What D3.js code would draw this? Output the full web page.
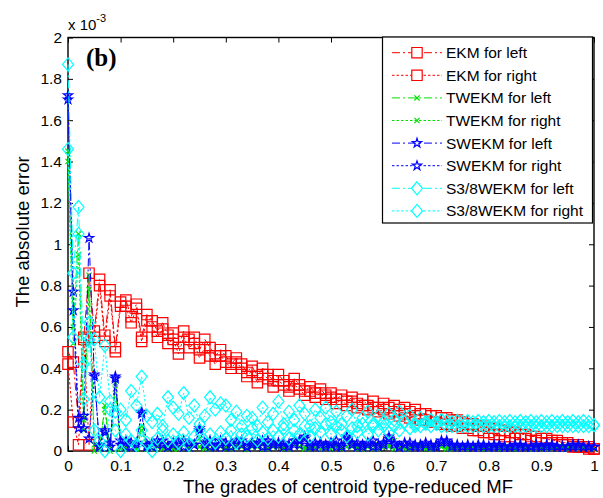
<!DOCTYPE html>
<html>
<head>
<meta charset="utf-8">
<script src="https://cdn.jsdelivr.net/npm/d3@7"></script>
<style>
body { margin: 0; background: #fff; }
text { font-family: "Liberation Sans", Arial, sans-serif; }
</style>
</head>
<body>
<div id="chart"></div>
<script>
// grades of the centroid type-reduced MF (x axis)
const grades = d3.range(0, 101).map(i => i / 100);

// absolute error, in units of 1e-3
const ekmLeft = [
    0.48, 0.43, 0.14, 0.55, 0.86, 0.58, 0.83, 0.56, 0.78, 0.50,
    0.72, 0.73, 0.65, 0.71, 0.55, 0.66, 0.63, 0.58, 0.62, 0.56,
    0.57, 0.50, 0.58, 0.54, 0.55, 0.49, 0.54, 0.50, 0.46, 0.49,
    0.46, 0.42, 0.45, 0.42, 0.38, 0.41, 0.36, 0.40, 0.37, 0.34,
    0.37, 0.34, 0.31, 0.35, 0.32, 0.29, 0.31, 0.28, 0.30, 0.27,
    0.28, 0.25, 0.27, 0.24, 0.26, 0.23, 0.25, 0.22, 0.24, 0.21,
    0.23, 0.21, 0.22, 0.20, 0.21, 0.19, 0.20, 0.18, 0.18, 0.17,
    0.17, 0.16, 0.16, 0.15, 0.15, 0.14, 0.13, 0.13, 0.12, 0.12,
    0.11, 0.11, 0.10, 0.10, 0.09, 0.09, 0.08, 0.08, 0.07, 0.07,
    0.06, 0.06, 0.05, 0.05, 0.04, 0.04, 0.03, 0.03, 0.02, 0.02, 0.01
];
const ekmRight = [
    0.42, 0.14, 0.03, 0.54, 0.03, 0.55, 0.80, 0.53, 0.75, 0.48,
    0.70, 0.70, 0.62, 0.69, 0.53, 0.63, 0.60, 0.55, 0.59, 0.52,
    0.54, 0.47, 0.55, 0.50, 0.52, 0.45, 0.50, 0.46, 0.42, 0.46,
    0.43, 0.40, 0.43, 0.40, 0.36, 0.39, 0.33, 0.37, 0.35, 0.31,
    0.34, 0.32, 0.29, 0.32, 0.30, 0.27, 0.29, 0.26, 0.28, 0.25,
    0.26, 0.23, 0.25, 0.22, 0.24, 0.21, 0.22, 0.20, 0.21, 0.19,
    0.20, 0.18, 0.19, 0.17, 0.18, 0.16, 0.17, 0.15, 0.15, 0.14,
    0.14, 0.13, 0.13, 0.12, 0.12, 0.11, 0.11, 0.10, 0.10, 0.09,
    0.09, 0.08, 0.08, 0.07, 0.07, 0.06, 0.06, 0.06, 0.05, 0.05,
    0.04, 0.04, 0.04, 0.03, 0.03, 0.03, 0.02, 0.02, 0.02, 0.01, 0.01
];
const twekmLeft = [
    1.45, 0.60, 1.05, 0.15, 0.85, 0.03, 0.01, 0.22, 0.01, 0.33,
    0.02, 0.01, 0.04, 0.02, 0.12, 0.01, 0.03, 0.02, 0.01, 0.03,
    0.02, 0.01, 0.03, 0.02, 0.04, 0.06, 0.02, 0.01, 0.03, 0.02,
    0.01, 0.03, 0.02, 0.04, 0.01, 0.02, 0.03, 0.01, 0.02, 0.03,
    0.02, 0.01, 0.03, 0.05, 0.02, 0.01, 0.02, 0.03, 0.01, 0.02,
    0.03, 0.02, 0.01, 0.02, 0.04, 0.02, 0.01, 0.02, 0.03, 0.01,
    0.02, 0.03, 0.05, 0.02, 0.01, 0.02, 0.03, 0.02, 0.01, 0.02,
    0.02, 0.03, 0.02, 0.01, 0.02, 0.02, 0.01, 0.02, 0.02, 0.01,
    0.02, 0.02, 0.01, 0.02, 0.02, 0.01, 0.02, 0.02, 0.01, 0.02,
    0.02, 0.01, 0.02, 0.02, 0.01, 0.02, 0.02, 0.01, 0.02, 0.01, 0.01
];
const twekmRight = [
    1.40, 0.52, 0.95, 0.10, 0.78, 0.00, 0.02, 0.20, 0.00, 0.30,
    0.01, 0.02, 0.03, 0.01, 0.10, 0.02, 0.01, 0.03, 0.02, 0.01,
    0.01, 0.02, 0.04, 0.01, 0.03, 0.02, 0.01, 0.03, 0.02, 0.04,
    0.02, 0.01, 0.03, 0.02, 0.01, 0.04, 0.02, 0.03, 0.01, 0.02,
    0.03, 0.02, 0.01, 0.03, 0.04, 0.02, 0.01, 0.02, 0.03, 0.02,
    0.01, 0.03, 0.02, 0.04, 0.02, 0.01, 0.03, 0.02, 0.01, 0.03,
    0.04, 0.02, 0.01, 0.03, 0.02, 0.01, 0.02, 0.03, 0.02, 0.01,
    0.02, 0.02, 0.01, 0.02, 0.02, 0.01, 0.02, 0.02, 0.01, 0.02,
    0.01, 0.02, 0.02, 0.01, 0.02, 0.01, 0.02, 0.02, 0.01, 0.02,
    0.01, 0.02, 0.01, 0.02, 0.02, 0.01, 0.02, 0.01, 0.02, 0.01, 0.01
];
const swekmLeft = [
    1.72, 0.68, 0.11, 0.17, 1.03, 0.37, 0.03, 0.10, 0.02, 0.35,
    0.05, 0.02, 0.04, 0.03, 0.19, 0.03, 0.02, 0.05, 0.03, 0.02,
    0.04, 0.03, 0.05, 0.02, 0.03, 0.11, 0.04, 0.02, 0.03, 0.05,
    0.02, 0.04, 0.03, 0.05, 0.02, 0.03, 0.04, 0.02, 0.05, 0.03,
    0.04, 0.02, 0.03, 0.05, 0.03, 0.07, 0.02, 0.04, 0.03, 0.02,
    0.03, 0.05, 0.02, 0.07, 0.03, 0.04, 0.02, 0.03, 0.05, 0.02,
    0.03, 0.07, 0.04, 0.02, 0.03, 0.04, 0.02, 0.03, 0.04, 0.03,
    0.02, 0.05, 0.04, 0.03, 0.02, 0.02, 0.03, 0.02, 0.02, 0.03,
    0.02, 0.02, 0.03, 0.02, 0.02, 0.03, 0.02, 0.02, 0.02, 0.03,
    0.02, 0.02, 0.03, 0.02, 0.02, 0.02, 0.03, 0.02, 0.02, 0.02, 0.02
];
const swekmRight = [
    1.70, 0.77, 0.16, 0.11, 0.06, 0.36, 0.02, 0.09, 0.04, 0.36,
    0.03, 0.05, 0.02, 0.04, 0.18, 0.02, 0.04, 0.03, 0.05, 0.02,
    0.03, 0.05, 0.02, 0.04, 0.03, 0.10, 0.03, 0.05, 0.02, 0.03,
    0.04, 0.02, 0.05, 0.03, 0.02, 0.04, 0.03, 0.05, 0.02, 0.04,
    0.03, 0.04, 0.02, 0.03, 0.05, 0.06, 0.03, 0.02, 0.04, 0.03,
    0.04, 0.02, 0.03, 0.06, 0.04, 0.02, 0.03, 0.04, 0.02, 0.03,
    0.04, 0.06, 0.03, 0.02, 0.04, 0.02, 0.03, 0.02, 0.03, 0.02,
    0.03, 0.04, 0.05, 0.02, 0.03, 0.02, 0.02, 0.02, 0.03, 0.02,
    0.02, 0.03, 0.02, 0.02, 0.02, 0.02, 0.03, 0.02, 0.02, 0.02,
    0.02, 0.03, 0.02, 0.02, 0.02, 0.02, 0.02, 0.03, 0.02, 0.02, 0.02
];
const s38Left = [
    1.87, 0.86, 1.18, 0.42, 0.62, 0.10, 0.05, 0.00, 0.20, 0.10,
    0.00, 0.08, 0.05, 0.03, 0.10, 0.04, 0.00, 0.06, 0.10, 0.05,
    0.08, 0.04, 0.09, 0.03, 0.07, 0.10, 0.05, 0.08, 0.04, 0.09,
    0.06, 0.10, 0.04, 0.08, 0.07, 0.11, 0.05, 0.09, 0.06, 0.10,
    0.07, 0.11, 0.06, 0.10, 0.08, 0.12, 0.07, 0.11, 0.09, 0.13,
    0.08, 0.12, 0.10, 0.07, 0.11, 0.09, 0.13, 0.08, 0.12, 0.10,
    0.14, 0.09, 0.12, 0.10, 0.14, 0.11, 0.13, 0.12, 0.14, 0.12,
    0.14, 0.12, 0.145, 0.12, 0.145, 0.12, 0.145, 0.12, 0.145, 0.12,
    0.145, 0.12, 0.145, 0.12, 0.145, 0.12, 0.145, 0.12, 0.145, 0.12,
    0.145, 0.12, 0.145, 0.12, 0.145, 0.12, 0.145, 0.12, 0.145, 0.12, 0.125
];
const s38Right = [
    1.46, 0.55, 1.05, 0.25, 0.54, 0.54, 0.26, 0.51, 0.24, 0.19,
    0.20, 0.15, 0.29, 0.22, 0.36, 0.17, 0.14, 0.18, 0.12, 0.26,
    0.21, 0.18, 0.28, 0.16, 0.22, 0.13, 0.17, 0.26, 0.20, 0.23,
    0.22, 0.15, 0.19, 0.12, 0.17, 0.16, 0.12, 0.21, 0.14, 0.18,
    0.24, 0.13, 0.19, 0.15, 0.22, 0.18, 0.12, 0.20, 0.16, 0.21,
    0.14, 0.19, 0.13, 0.17, 0.20, 0.12, 0.16, 0.19, 0.13, 0.17,
    0.12, 0.18, 0.15, 0.19, 0.14, 0.17, 0.12, 0.16, 0.13, 0.15,
    0.13, 0.15, 0.12, 0.14, 0.12, 0.14, 0.12, 0.14, 0.12, 0.14,
    0.12, 0.14, 0.12, 0.14, 0.12, 0.14, 0.12, 0.14, 0.12, 0.14,
    0.12, 0.14, 0.12, 0.14, 0.12, 0.14, 0.12, 0.14, 0.12, 0.14, 0.125
];

const seriesNames = ["EKM for left", "EKM for right", "TWEKM for left", "TWEKM for right",
    "SWEKM for left", "SWEKM for right", "S3/8WEKM for left", "S3/8WEKM for right"];
const seriesValues = [ekmLeft, ekmRight, twekmLeft, twekmRight, swekmLeft, swekmRight, s38Left, s38Right];

const xTicks = [0, 0.1, 0.2, 0.3, 0.4, 0.5, 0.6, 0.7, 0.8, 0.9, 1];
const xTickLabels = ["0", "0.1", "0.2", "0.3", "0.4", "0.5", "0.6", "0.7", "0.8", "0.9", "1"];
const yTicks = [0, 0.2, 0.4, 0.6, 0.8, 1, 1.2, 1.4, 1.6, 1.8, 2];
const yTickLabels = ["0", "0.2", "0.4", "0.6", "0.8", "1", "1.2", "1.4", "1.6", "1.8", "2"];

// styles per series
const colors = ["#ff0000", "#ff0000", "#00e000", "#00e000", "#0000ff", "#0000ff", "#00ffff", "#00ffff"];
const dashes = ["8,3,2,3", "2.5,2", "8,3,2,3", "2.5,2", "8,3,2,3", "2.5,2", "8,3,2,3", "2.5,2"];
const markerPaths = {
    square: "M-5.2,-5.2h10.4v10.4h-10.4z",
    xmark: "M-2.6,-2.6L2.6,2.6M-2.6,2.6L2.6,-2.6",
    star: d3.symbol(d3.symbolStar, 26)(),
    diamond: "M0,-6.5L5.5,0L0,6.5L-5.5,0Z"
};
const markers = ["square", "square", "xmark", "xmark", "star", "star", "diamond", "diamond"];

let width = 603, height = 498;
let margin = {top: 37.5, right: 9, bottom: 47, left: 68};

let svg = d3.select("#chart").append("svg")
    .attr("width", width)
    .attr("height", height);

let x = d3.scaleLinear().domain([0, 1]).range([margin.left, width - margin.right]);
let y = d3.scaleLinear().domain([0, 2]).range([height - margin.bottom, margin.top]);

// axes, ticks pointing inward like MATLAB
let fmtX = d => xTickLabels[xTicks.indexOf(d)];
let fmtY = d => yTickLabels[yTicks.indexOf(d)];

svg.append("g").attr("class", "axis")
    .attr("transform", `translate(0,${y(0)})`)
    .call(d3.axisBottom(x).tickValues(xTicks).tickFormat(fmtX).tickSizeInner(-5).tickSizeOuter(0).tickPadding(9));
svg.append("g").attr("class", "axis")
    .attr("transform", `translate(0,${y(2)})`)
    .call(d3.axisTop(x).tickValues(xTicks).tickFormat("").tickSizeInner(-5).tickSizeOuter(0));
svg.append("g").attr("class", "axis")
    .attr("transform", `translate(${x(0)},0)`)
    .call(d3.axisLeft(y).tickValues(yTicks).tickFormat(fmtY).tickSizeInner(-5).tickSizeOuter(0).tickPadding(6));
svg.append("g").attr("class", "axis")
    .attr("transform", `translate(${x(1)},0)`)
    .call(d3.axisRight(y).tickValues(yTicks).tickFormat("").tickSizeInner(-5).tickSizeOuter(0));

svg.selectAll(".axis .domain").remove();
svg.selectAll(".axis text")
    .style("font-size", "15.5px")
    .attr("fill", "#000");
svg.selectAll(".axis line").attr("stroke", "#000");

svg.append("rect")
    .attr("x", x(0)).attr("y", y(2))
    .attr("width", x(1) - x(0)).attr("height", y(0) - y(2))
    .attr("fill", "none").attr("stroke", "#000").attr("stroke-width", 1.4);

// series
let line = d3.line().x((d, i) => x(grades[i])).y(d => y(d));

seriesValues.forEach((vals, k) => {
    let g = svg.append("g");
    g.append("path")
        .attr("d", line(vals))
        .attr("fill", "none")
        .attr("stroke", colors[k])
        .attr("stroke-width", 1)
        .attr("stroke-dasharray", dashes[k]);
    g.selectAll("path.mk")
        .data(vals)
        .enter()
        .append("path")
        .attr("class", "mk")
        .attr("d", markerPaths[markers[k]])
        .attr("transform", (d, i) => `translate(${x(grades[i])},${y(d)})`)
        .attr("fill", "none")
        .attr("stroke", colors[k])
        .attr("stroke-width", 1.2);
});

// legend
let legend = svg.append("g");
legend.append("rect")
    .attr("x", 382.5).attr("y", 37).attr("width", 210).attr("height", 186)
    .attr("fill", "#fff").attr("stroke", "#000").attr("stroke-width", 1.2);
seriesNames.forEach((name, k) => {
    let ly = 52.7 + k * 22.6;
    legend.append("line")
        .attr("x1", 392).attr("x2", 442).attr("y1", ly).attr("y2", ly)
        .attr("stroke", colors[k]).attr("stroke-width", 1)
        .attr("stroke-dasharray", dashes[k]);
    legend.append("path")
        .attr("d", markerPaths[markers[k]])
        .attr("transform", `translate(417,${ly})`)
        .attr("fill", "#fff").attr("stroke", colors[k]).attr("stroke-width", 1.2);
    legend.append("text")
        .attr("x", 446).attr("y", ly + 5.5)
        .style("font-size", "15.5px")
        .text(name);
});

// exponent note and panel label
let expo = svg.append("text").attr("x", 68).attr("y", 30).style("font-size", "15px");
expo.append("tspan").text("x 10");
expo.append("tspan").attr("dy", -8).style("font-size", "11px").text("-3");

svg.append("text")
    .attr("x", 86).attr("y", 66)
    .style("font-family", "'Liberation Serif', 'Times New Roman', serif")
    .style("font-weight", "bold")
    .style("font-size", "25px")
    .text("(b)");

// axis titles
svg.append("text")
    .attr("x", 348).attr("y", 493)
    .attr("text-anchor", "middle")
    .style("font-size", "18.5px")
    .text("The grades of centroid type-reduced MF");
svg.append("text")
    .attr("transform", "translate(29,232) rotate(-90)")
    .attr("text-anchor", "middle")
    .style("font-size", "18.5px")
    .text("The absolute error");
</script>
</body>
</html>
